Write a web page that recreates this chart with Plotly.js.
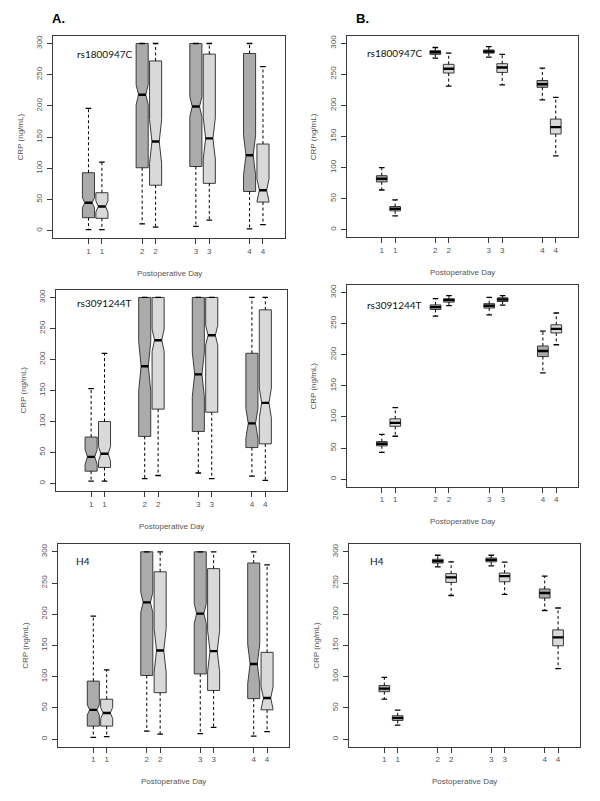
<!DOCTYPE html>
<html>
<head>
<meta charset="utf-8">
<script src="https://cdn.plot.ly/plotly-3.0.1.min.js"></script>
<style>
html,body{margin:0;padding:0;background:#fff;}
#chart{width:600px;height:801px;}
</style>
</head>
<body>
<div id="chart"></div>
<script>
// ---------- data (order: day1 first-group, day1 second-group, day2 ..., day4 second-group) ----------
const positions = [1, 1.25, 2, 2.25, 3, 3.25, 4, 4.25];
const tickLabels = ['1', '1', '2', '2', '3', '3', '4', '4'];
const yTicks = [0, 50, 100, 150, 200, 250, 300];

// Panel A, rs1800947C
const a1Lower  = [2, 2, 11, 6, 7, 17, 3, 10];
const a1Q1     = [21, 20, 101, 73, 103, 76, 63, 46];
const a1Median = [45, 39, 218, 143, 199, 148, 121, 65];
const a1Q3     = [93, 61, 300, 272, 300, 283, 284, 139];
const a1Upper  = [196, 110, 300, 300, 300, 300, 300, 263];
const a1Notch  = [8, 9, 16, 35, 16, 33, 32, 18];

// Panel B, rs1800947C
const b1Lower  = [64, 22.5, 276, 231, 277.5, 233, 209, 119];
const b1Q1     = [77, 30.5, 282, 252, 284, 253, 229, 154];
const b1Median = [82, 34, 285.5, 259, 286.5, 261, 234, 165];
const b1Q3     = [87, 37.5, 288, 266, 289, 267, 240, 178];
const b1Upper  = [100, 48, 293, 284, 294.5, 282, 260, 213];

// Panel A, rs3091244T
const a2Lower  = [4, 4, 8, 13, 17, 8, 12, 5];
const a2Q1     = [20, 26, 76, 120, 84, 115, 58, 64];
const a2Median = [43, 48, 189, 231, 176, 239, 97, 130];
const a2Q3     = [75, 100, 300, 300, 300, 300, 210, 280];
const a2Upper  = [153, 210, 300, 300, 300, 300, 300, 300];
const a2Notch  = [12, 12, 40, 18, 36, 16, 24, 24];

// Panel B, rs3091244T
const b2Lower  = [43, 69, 262, 279, 264, 279.6, 171, 216];
const b2Q1     = [53.6, 85, 272.7, 284.5, 275, 285.5, 197, 235];
const b2Median = [57, 90.5, 276.5, 287.7, 278.6, 288.8, 206, 241.6];
const b2Q3     = [60.5, 97, 280, 290, 282, 291.4, 214, 248];
const b2Upper  = [72, 115, 290, 295, 292, 295, 238, 267];

// Panel A, H4
const a3Lower  = [3, 4, 13, 8, 9, 19, 5, 12];
const a3Q1     = [21, 21, 102, 74.5, 104.5, 78, 65, 47];
const a3Median = [47, 42, 219, 142, 201, 141, 120.5, 66];
const a3Q3     = [93, 64, 300, 268, 300, 273, 282, 139];
const a3Upper  = [197, 111, 300, 300, 300, 300, 300, 279];
const a3Notch  = [8, 9, 16, 35, 16, 33, 32, 18];

// Panel B, H4
const b3Lower  = [64, 22.5, 276, 230, 277.5, 232, 206, 113];
const b3Q1     = [76, 30, 282, 251, 284, 252, 226, 149.5];
const b3Median = [81, 34, 285, 259, 287, 261, 234, 163];
const b3Q3     = [86, 37.5, 288, 265, 290, 266, 240.5, 175];
const b3Upper  = [99, 46.5, 294.5, 284, 294.5, 283.5, 261, 210];

const panelLabels = ['rs1800947C', 'rs1800947C', 'rs3091244T', 'rs3091244T', 'H4', 'H4'];
const xTitle = 'Postoperative Day';
const yTitle = 'CRP (ng/mL)';

// ---------- panels ----------
const panels = [
  {lower: a1Lower, q1: a1Q1, med: a1Median, q3: a1Q3, upper: a1Upper, notch: a1Notch},
  {lower: b1Lower, q1: b1Q1, med: b1Median, q3: b1Q3, upper: b1Upper, notch: null},
  {lower: a2Lower, q1: a2Q1, med: a2Median, q3: a2Q3, upper: a2Upper, notch: a2Notch},
  {lower: b2Lower, q1: b2Q1, med: b2Median, q3: b2Q3, upper: b2Upper, notch: null},
  {lower: a3Lower, q1: a3Q1, med: a3Median, q3: a3Q3, upper: a3Upper, notch: a3Notch},
  {lower: b3Lower, q1: b3Q1, med: b3Median, q3: b3Q3, upper: b3Upper, notch: null}
];

// layout geometry (pixels) : [left, right, top, bottom] of each plot frame
const W = 600, H = 801;
const frames = [
  [53.3, 285, 36, 238.3],
  [346.7, 577.7, 35.7, 237.3],
  [56, 287.3, 290, 491],
  [346.7, 578.3, 285, 486.7],
  [58.3, 289, 544.3, 746.7],
  [349.3, 580, 544.3, 746.7]
];
const labelPos = [[75, 53.5], [365, 52.5], [75, 303], [365, 305.5], [74, 561], [368, 560.5]];

const darkFill = '#ababab';
const lightFill = '#d9d9d9';
const edge = '#3a3a3a';
const textGray = '#555555';
const tickFont = {family: 'Liberation Sans, Arial, sans-serif', size: 8, color: textGray};

const traces = [];
const layout = {
  width: W, height: H,
  margin: {l: 0, r: 0, t: 0, b: 0},
  paper_bgcolor: '#ffffff', plot_bgcolor: '#ffffff',
  showlegend: false,
  boxmode: 'overlay',
  annotations: []
};

function pick(arr, idx) { return idx.map(i => arr[i]); }

panels.forEach((p, k) => {
  const suf = k === 0 ? '' : String(k + 1);
  const xa = 'x' + suf, ya = 'y' + suf;
  const isA = p.notch !== null;
  const groups = [[0, 2, 4, 6], [1, 3, 5, 7]];
  const fills = [darkFill, lightFill];

  groups.forEach((idx, g) => {
    const box = {
      type: 'box',
      xaxis: xa, yaxis: ya,
      x: pick(positions, idx),
      q1: pick(p.q1, idx),
      median: pick(p.med, idx),
      q3: pick(p.q3, idx),
      lowerfence: pick(p.q1, idx),
      upperfence: pick(p.q3, idx),
      width: isA ? 0.225 : 0.2,
      fillcolor: fills[g],
      line: {color: edge, width: 1},
      whiskerwidth: 0,
      boxpoints: false,
      hoverinfo: 'skip'
    };
    if (isA) {
      box.notched = true;
      box.notchspan = pick(p.notch, idx);
      box.notchwidth = 0.2;
    }
    traces.push(box);
  });

  // dashed whiskers
  const wx = [], wy = [];
  positions.forEach((pos, i) => {
    wx.push(pos, pos, null, pos, pos, null);
    wy.push(p.q1[i], p.lower[i], null, p.q3[i], p.upper[i], null);
  });
  traces.push({
    type: 'scatter', mode: 'lines', xaxis: xa, yaxis: ya,
    x: wx, y: wy, connectgaps: false,
    line: {color: '#000', width: 1, dash: '3px,2.5px'},
    hoverinfo: 'skip'
  });
  // whisker caps
  traces.push({
    type: 'scatter', mode: 'markers', xaxis: xa, yaxis: ya,
    x: positions.concat(positions),
    y: p.lower.concat(p.upper),
    marker: {symbol: 'line-ew', size: 4, color: '#000', line: {color: '#000', width: 1.3}},
    hoverinfo: 'skip'
  });
  // thick medians
  traces.push({
    type: 'scatter', mode: 'markers', xaxis: xa, yaxis: ya,
    x: positions, y: p.med,
    marker: {symbol: 'line-ew', size: isA ? 5.3 : 7.6, color: '#000', line: {color: '#000', width: 2.4}},
    hoverinfo: 'skip'
  });

  const f = frames[k];
  layout['xaxis' + suf] = {
    domain: [f[0] / W, f[1] / W],
    anchor: ya,
    range: [0.345, 4.66],
    tickmode: 'array', tickvals: positions, ticktext: tickLabels,
    ticks: 'outside', ticklen: 5, tickwidth: 1, tickcolor: edge,
    tickfont: tickFont,
    showline: true, mirror: true, linecolor: edge, linewidth: 1,
    showgrid: false, zeroline: false, fixedrange: true
  };
  layout['yaxis' + suf] = {
    domain: [1 - f[3] / H, 1 - f[2] / H],
    anchor: xa,
    range: [-12, 312],
    tickmode: 'array', tickvals: yTicks, ticktext: yTicks.map(String),
    tickangle: -90,
    ticks: 'outside', ticklen: 5, tickwidth: 1, tickcolor: edge,
    tickfont: tickFont, ticklabelstandoff: 2,
    showline: true, mirror: true, linecolor: edge, linewidth: 1,
    showgrid: false, zeroline: false, fixedrange: true
  };

  // panel label
  layout.annotations.push({
    xref: 'paper', yref: 'paper',
    x: labelPos[k][0] / W, y: 1 - labelPos[k][1] / H,
    xanchor: 'left', yanchor: 'middle', showarrow: false,
    text: panelLabels[k],
    font: {family: 'Lato, Open Sans, sans-serif', size: 10, color: '#111'}
  });
  // x title
  layout.annotations.push({
    xref: 'paper', yref: 'paper',
    x: (f[0] + f[1]) / 2 / W, y: 1 - (f[3] + 35) / H,
    xanchor: 'center', yanchor: 'middle', showarrow: false,
    text: xTitle,
    font: {family: 'Liberation Sans, Arial, sans-serif', size: 8, color: textGray}
  });
  // y title
  layout.annotations.push({
    xref: 'paper', yref: 'paper',
    x: (f[0] - 33) / W, y: 1 - (f[2] + f[3]) / 2 / H,
    xanchor: 'center', yanchor: 'middle', showarrow: false, textangle: -90,
    text: yTitle,
    font: {family: 'Liberation Sans, Arial, sans-serif', size: 8, color: textGray}
  });
});

// column headings
layout.annotations.push({
  xref: 'paper', yref: 'paper', x: 50 / W, y: 1 - 19 / H,
  xanchor: 'left', yanchor: 'middle', showarrow: false,
  text: '<b>A.</b>', font: {family: 'Liberation Sans, Arial, sans-serif', size: 13, color: '#000'}
});
layout.annotations.push({
  xref: 'paper', yref: 'paper', x: 354 / W, y: 1 - 19 / H,
  xanchor: 'left', yanchor: 'middle', showarrow: false,
  text: '<b>B.</b>', font: {family: 'Liberation Sans, Arial, sans-serif', size: 13, color: '#000'}
});

Plotly.newPlot('chart', traces, layout, {staticPlot: true, displayModeBar: false});
</script>
</body>
</html>
